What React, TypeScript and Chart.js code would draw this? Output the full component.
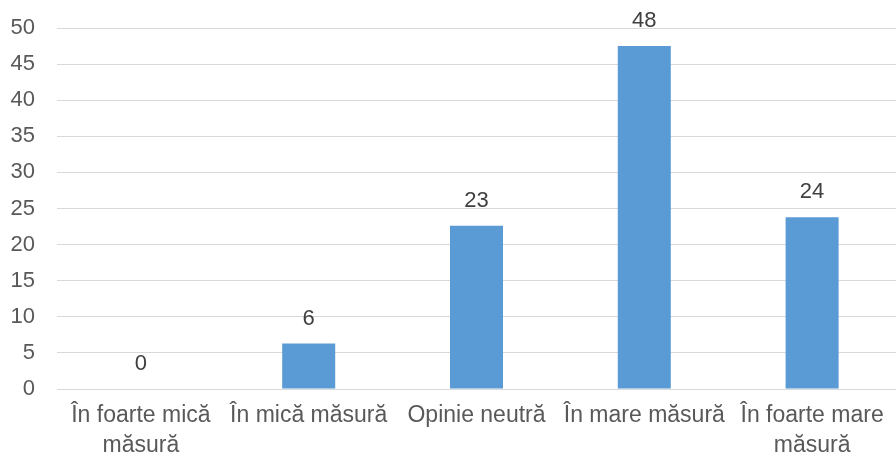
import React, { useEffect, useRef } from "react";
import { Chart, registerables } from "chart.js";

Chart.register(...registerables);

const categories: (string | string[])[] = [
  ["În foarte mică", "măsură"],
  "În mică măsură",
  "Opinie neutră",
  "În mare măsură",
  ["În foarte mare", "măsură"],
];
const values = [0, 6.3, 22.6, 47.5, 23.8];
const valueLabels = ["0", "6", "23", "48", "24"];

const FONT = "'Liberation Sans', Arial, sans-serif";

const labelPlugin = {
  id: "valueLabels",
  afterDatasetsDraw(chart: any) {
    const ctx = chart.ctx;
    const meta = chart.getDatasetMeta(0);
    ctx.save();
    ctx.font = `22px ${FONT}`;
    ctx.fillStyle = "#404040";
    ctx.textAlign = "center";
    ctx.textBaseline = "middle";
    meta.data.forEach((bar: any, i: number) => {
      ctx.fillText(valueLabels[i], bar.x, bar.y - 25);
    });
    ctx.restore();
  },
};

export default function App() {
  const ref = useRef<HTMLCanvasElement>(null);
  useEffect(() => {
    const chart = new Chart(ref.current!, {
      type: "bar",
      data: {
        labels: categories,
        datasets: [
          {
            data: values,
            backgroundColor: "#5B9BD5",
            barPercentage: 1,
            categoryPercentage: 0.316,
          },
        ],
      },
      options: {
        animation: false,
        responsive: false,
        layout: { padding: { top: 28, right: 0, left: 0, bottom: 0 } },
        plugins: { legend: { display: false }, tooltip: { enabled: false } },
        scales: {
          x: {
            grid: { display: false, drawTicks: false },
            border: { color: "#D9D9D9", width: 1 },
            ticks: {
              color: "#595959",
              font: { family: FONT, size: 23, lineHeight: 1.3 },
              padding: 12,
              maxRotation: 0,
              autoSkip: false,
            },
            afterFit: (s: any) => {
              s.height = 65;
            },
          },
          y: {
            min: 0,
            max: 50,
            ticks: {
              stepSize: 5,
              color: "#595959",
              font: { family: FONT, size: 22 },
              padding: 22,
            },
            grid: { color: "#D9D9D9", lineWidth: 1, drawTicks: false },
            border: { display: false },
            afterFit: (s: any) => {
              s.width = 57;
              s.paddingTop = 0;
              s.paddingBottom = 0;
            },
          },
        },
      },
      plugins: [labelPlugin],
    });
    return () => chart.destroy();
  }, []);
  return (
    <div style={{ position: "fixed", left: 0, top: 0, width: 896, height: 454, background: "#fff" }}>
      <canvas ref={ref} width={896} height={454} />
    </div>
  );
}
